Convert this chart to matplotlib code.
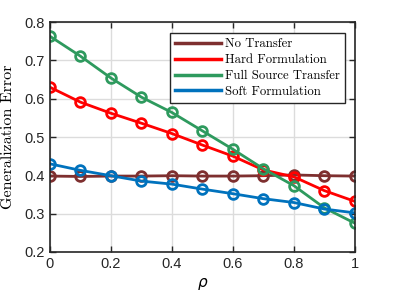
import matplotlib
matplotlib.use("Agg")
import matplotlib.pyplot as plt

rho = [0.0, 0.1, 0.2, 0.3, 0.4, 0.5, 0.6, 0.7, 0.8, 0.9, 1.0]
no_transfer = [0.398, 0.397, 0.398, 0.398, 0.399, 0.398, 0.398, 0.399, 0.401, 0.399, 0.398]
hard = [0.630, 0.591, 0.562, 0.536, 0.509, 0.479, 0.450, 0.414, 0.396, 0.360, 0.332]
full_source = [0.763, 0.711, 0.654, 0.604, 0.564, 0.516, 0.468, 0.417, 0.373, 0.315, 0.275]
soft = [0.430, 0.413, 0.399, 0.385, 0.377, 0.364, 0.352, 0.339, 0.329, 0.312, 0.302]

series = [
    ("No Transfer", no_transfer, "#7E2F2F"),
    ("Hard Formulation", hard, "#FF0000"),
    ("Full Source Transfer", full_source, "#2E9A5E"),
    ("Soft Formulation", soft, "#0072BD"),
]

plt.rcParams["font.family"] = ["Liberation Sans", "DejaVu Sans"]
plt.rcParams["mathtext.fontset"] = "dejavusans"

fig = plt.figure(figsize=(3.93, 2.94), dpi=100)
ax = fig.add_axes([0.127, 0.143, 0.776, 0.782])

for label, vals, color in series:
    ax.plot(rho, vals, color=color, linewidth=2.0, marker="o", markersize=7,
            markerfacecolor="none", markeredgewidth=2.0, label=label)

ax.set_xlim(0, 1)
ax.set_ylim(0.2, 0.8)
ax.set_xticks([0, 0.2, 0.4, 0.6, 0.8, 1])
ax.set_xticklabels(["0", "0.2", "0.4", "0.6", "0.8", "1"])
ax.set_yticks([0.2, 0.3, 0.4, 0.5, 0.6, 0.7, 0.8])
ax.tick_params(direction="in", top=True, right=True, labelsize=10.5,
               length=4, width=1, colors="#262626")
ax.grid(True, color="#dcdcdc", linewidth=1)
ax.set_axisbelow(True)
for s in ax.spines.values():
    s.set_linewidth(1.2)
    s.set_color("#262626")

ax.set_xlabel(r"$\rho$", fontsize=11)
ax.set_ylabel("Generalization Error", fontsize=11.5, family=["cmr10"], labelpad=7)

leg = ax.legend(loc="upper right", bbox_to_anchor=(0.968, 0.953),
                prop={"family": "cmr10", "size": 9.2}, handlelength=3.6,
                borderpad=0.4, labelspacing=0.3, handletextpad=0.35,
                borderaxespad=0, fancybox=False, edgecolor="#262626", framealpha=1)
leg.get_frame().set_linewidth(1.0)
for line in leg.get_lines():
    line.set_marker("")
    line.set_linewidth(2.5)

fig.savefig("out.png", dpi=100)
